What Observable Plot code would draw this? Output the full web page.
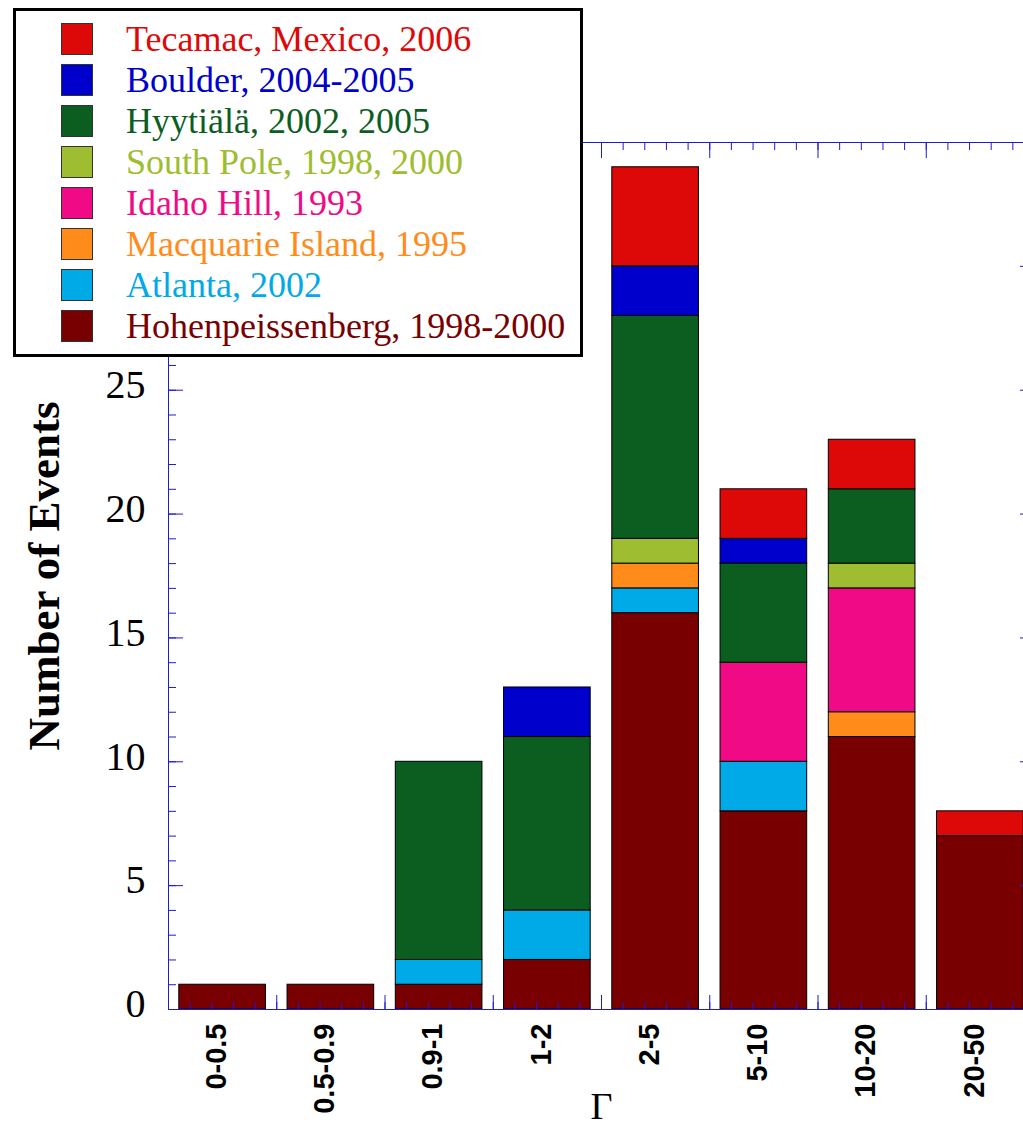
<!DOCTYPE html>
<html>
<head>
<meta charset="utf-8">
<script src="https://cdn.jsdelivr.net/npm/d3@7"></script>
<script src="https://cdn.jsdelivr.net/npm/@observablehq/plot@0.6"></script>
<style>
  html, body { margin: 0; padding: 0; background: #fff; overflow: hidden; }
  #wrap { position: relative; width: 1023px; height: 1129px; overflow: hidden; }
  #legend {
    position: absolute; left: 13px; top: 8px; width: 564px; height: 343px;
    border: 3px solid #000; background: #fff; box-sizing: content-box;
  }
  .row { position: absolute; left: 45px; height: 32px; display: flex; align-items: center; white-space: nowrap; }
  .sw { width: 30px; height: 30px; border: 1px solid #333; margin-right: 33px; flex: none; }
  .lab { font-family: "Liberation Serif", serif; font-size: 36px; line-height: 32px; }
</style>
</head>
<body>
<div id="wrap"><div id="chart"></div><div id="legend"></div></div>
<script>
// Categories (Γ ranges)
const categories = ["0-0.5", "0.5-0.9", "0.9-1", "1-2", "2-5", "5-10", "10-20", "20-50"];

// Series, in legend order (top to bottom)
const seriesNames = [
  "Tecamac, Mexico, 2006",
  "Boulder, 2004-2005",
  "Hyytiälä, 2002, 2005",
  "South Pole, 1998, 2000",
  "Idaho Hill, 1993",
  "Macquarie Island, 1995",
  "Atlanta, 2002",
  "Hohenpeissenberg, 1998-2000"
];
const seriesColors = ["#dd0909", "#0000cc", "#0b5e1f", "#9ebd30", "#f00a85", "#ff8c1a", "#00aae6", "#780000"];

// Counts per category for each series
const tecamac          = [0, 0, 0, 0, 4, 2, 2, 1];
const boulder          = [0, 0, 0, 2, 2, 1, 0, 0];
const hyytiala         = [0, 0, 8, 7, 9, 4, 3, 0];
const southPole        = [0, 0, 0, 0, 1, 0, 1, 0];
const idahoHill        = [0, 0, 0, 0, 0, 4, 5, 0];
const macquarie        = [0, 0, 0, 0, 1, 0, 1, 0];
const atlanta          = [0, 0, 1, 2, 1, 2, 0, 0];
const hohenpeissenberg = [1, 1, 1, 2, 16, 8, 11, 7];

const seriesValues = [tecamac, boulder, hyytiala, southPole, idahoHill, macquarie, atlanta, hohenpeissenberg];

// Axis ticks
const yMajorTicks = [0, 5, 10, 15, 20, 25, 30, 35];
const yLabelTicks = [0, 5, 10, 15, 20, 25]; // 30 and 35 are hidden under the legend in the original
const yMinorTicks = d3.range(0, 36);
const xMajorTicks = d3.range(0, 9);
const xMinorTicks = d3.range(0, 41).map(k => k / 5);
const xLabel = "Γ";
const yLabel = "Number of Events";

// Stack order: bottom = Hohenpeissenberg ... top = Tecamac
const stackOrder = seriesNames.slice().reverse();
const table = [];
for (const name of stackOrder) {
  const vals = seriesValues[seriesNames.indexOf(name)];
  vals.forEach((v, i) => { if (v > 0) table.push({i, category: categories[i], series: name, count: v}); });
}

const axisColor = "#1c1cd0";
const serif = "Liberation Serif, Times New Roman, serif";

const chart = Plot.plot({
  width: 1023,
  height: 1129,
  marginLeft: 168,
  marginRight: -11,
  marginTop: 142,
  marginBottom: 120,
  x: {domain: [0, 8]},
  y: {domain: [0, 35]},
  color: {domain: seriesNames, range: seriesColors},
  style: {background: "transparent", color: "black"},
  marks: [
    Plot.rectY(table, {
      x: "i", interval: 1, y: "count", fill: "series",
      order: stackOrder, stroke: "black", strokeWidth: 1,
      insetLeft: 10.8, insetRight: 10.8
    }),
    Plot.frame({stroke: axisColor, strokeWidth: 1}),
    // bottom / top x ticks
    Plot.axisX({anchor: "bottom", ticks: xMinorTicks, tickSize: -7, tickFormat: () => "", stroke: axisColor, label: null}),
    Plot.axisX({anchor: "bottom", ticks: xMajorTicks, tickSize: -14, tickFormat: () => "", stroke: axisColor, label: null}),
    Plot.axisX({anchor: "top", ticks: xMinorTicks, tickSize: -7, tickFormat: () => "", stroke: axisColor, label: null}),
    Plot.axisX({anchor: "top", ticks: xMajorTicks, tickSize: -15, tickFormat: () => "", stroke: axisColor, label: null}),
    // left / right y ticks
    Plot.axisY({anchor: "left", ticks: yMinorTicks, tickSize: -8, tickFormat: () => "", stroke: axisColor, label: null}),
    Plot.axisY({anchor: "left", ticks: yMajorTicks, tickSize: -15, tickFormat: () => "", stroke: axisColor, label: null}),
    Plot.axisY({anchor: "right", ticks: yMinorTicks, tickSize: -8, tickFormat: () => "", stroke: axisColor, label: null}),
    Plot.axisY({anchor: "right", ticks: yMajorTicks, tickSize: -15, tickFormat: () => "", stroke: axisColor, label: null}),
    // tick labels
    Plot.axisY({anchor: "left", ticks: yLabelTicks, tickSize: 0, tickPadding: 23, fontSize: 40, fontFamily: serif, dy: -5, label: null}),
    Plot.axisX({
      anchor: "bottom", ticks: categories.map((c, i) => i + 0.5),
      tickFormat: d => categories[Math.floor(d)], tickRotate: -90, tickSize: 0, tickPadding: 14, dx: -6,
      fontSize: 29, fontWeight: "bold", fontFamily: "Liberation Sans, Arial, sans-serif", label: null
    }),
    // axis titles
    Plot.text([xLabel], {frameAnchor: "bottom", text: d => d, dy: 97, lineAnchor: "middle", textAnchor: "middle", fontSize: 38, fontFamily: serif}),
    Plot.text([yLabel], {frameAnchor: "left", text: d => d, rotate: -90, dx: -124, lineAnchor: "middle", textAnchor: "middle", fontSize: 45, fontWeight: "bold", fontFamily: serif})
  ]
});
document.getElementById("chart").appendChild(chart);

// Legend
const legend = document.getElementById("legend");
seriesNames.forEach((name, k) => {
  const row = document.createElement("div");
  row.className = "row";
  row.style.top = (12 + k * 41) + "px";
  const sw = document.createElement("div");
  sw.className = "sw";
  sw.style.background = seriesColors[k];
  const lab = document.createElement("span");
  lab.className = "lab";
  lab.style.color = seriesColors[k];
  lab.textContent = name;
  row.appendChild(sw);
  row.appendChild(lab);
  legend.appendChild(row);
});
</script>
</body>
</html>
